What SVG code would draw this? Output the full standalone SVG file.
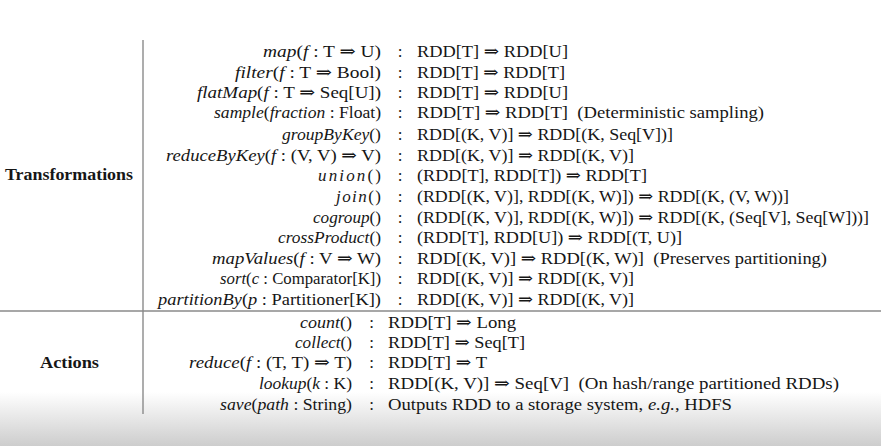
<svg xmlns="http://www.w3.org/2000/svg" width="881" height="446" viewBox="0 0 881 446">
<defs>
<linearGradient id="shade" x1="0" y1="0" x2="0" y2="1">
<stop offset="0" stop-color="#ffffff"/>
<stop offset="1" stop-color="#cdcdcd"/>
</linearGradient>
<style>
text{font-family:"Liberation Serif","DejaVu Serif",serif;font-size:17px;fill:#161616;white-space:pre}
.i{font-style:italic}
.h{font-weight:bold;font-size:17px}
.c{text-anchor:middle}
.e{text-anchor:end}
.rule{stroke:#8a8a8a;stroke-width:1.4;fill:none}
</style>
</defs>
<rect x="0" y="0" width="881" height="446" fill="#ffffff"/>
<rect x="0" y="392" width="881" height="54" fill="url(#shade)"/>
<g id="rules">
<line class="rule" x1="143" y1="40" x2="143" y2="414"/>
<line class="rule" x1="0" y1="311" x2="881" y2="311"/>
</g>
<g id="headers">
<text class="h" x="5" y="180" textLength="128" lengthAdjust="spacingAndGlyphs">Transformations</text>
<text class="h" x="40" y="368" textLength="59" lengthAdjust="spacingAndGlyphs">Actions</text>
</g>
<g id="transformations">
<g id="row-map"><text x="263" y="57" textLength="118" lengthAdjust="spacingAndGlyphs"><tspan class="i">map</tspan>(<tspan class="i">f</tspan> : T ⇒ U)</text><text class="c" x="400" y="57">:</text><text x="417" y="57" textLength="151" lengthAdjust="spacingAndGlyphs">RDD[T] ⇒ RDD[U]</text></g>
<g id="row-filter"><text x="235" y="77.5" textLength="146" lengthAdjust="spacingAndGlyphs"><tspan class="i">filter</tspan>(<tspan class="i">f</tspan> : T ⇒ Bool)</text><text class="c" x="400" y="77.5">:</text><text x="417" y="77.5" textLength="148" lengthAdjust="spacingAndGlyphs">RDD[T] ⇒ RDD[T]</text></g>
<g id="row-flatmap"><text x="197" y="98" textLength="184" lengthAdjust="spacingAndGlyphs"><tspan class="i">flatMap</tspan>(<tspan class="i">f</tspan> : T ⇒ Seq[U])</text><text class="c" x="400" y="98">:</text><text x="417" y="98" textLength="151" lengthAdjust="spacingAndGlyphs">RDD[T] ⇒ RDD[U]</text></g>
<g id="row-sample"><text x="214" y="118" textLength="167" lengthAdjust="spacingAndGlyphs"><tspan class="i">sample</tspan>(<tspan class="i">fraction</tspan> : Float)</text><text class="c" x="400" y="118">:</text><text x="417" y="118" textLength="347" lengthAdjust="spacingAndGlyphs">RDD[T] ⇒ RDD[T]  (Deterministic sampling)</text></g>
<g id="row-groupbykey"><text x="282" y="140" textLength="99" lengthAdjust="spacingAndGlyphs"><tspan class="i">groupByKey</tspan>()</text><text class="c" x="400" y="140">:</text><text x="417" y="140" textLength="256" lengthAdjust="spacingAndGlyphs">RDD[(K, V)] ⇒ RDD[(K, Seq[V])]</text></g>
<g id="row-reducebykey"><text x="166" y="160.5" textLength="215" lengthAdjust="spacingAndGlyphs"><tspan class="i">reduceByKey</tspan>(<tspan class="i">f</tspan> : (V, V) ⇒ V)</text><text class="c" x="400" y="160.5">:</text><text x="417" y="160.5" textLength="217" lengthAdjust="spacingAndGlyphs">RDD[(K, V)] ⇒ RDD[(K, V)]</text></g>
<g id="row-union"><text x="318" y="180.5" textLength="63" lengthAdjust="spacing"><tspan class="i">union</tspan>()</text><text class="c" x="400" y="180.5">:</text><text x="417" y="180.5" textLength="230" lengthAdjust="spacingAndGlyphs">(RDD[T], RDD[T]) ⇒ RDD[T]</text></g>
<g id="row-join"><text x="336" y="201.5" textLength="45" lengthAdjust="spacing"><tspan class="i">join</tspan>()</text><text class="c" x="400" y="201.5">:</text><text x="417" y="201.5" textLength="372" lengthAdjust="spacingAndGlyphs">(RDD[(K, V)], RDD[(K, W)]) ⇒ RDD[(K, (V, W))]</text></g>
<g id="row-cogroup"><text x="313" y="222.5" textLength="68" lengthAdjust="spacingAndGlyphs"><tspan class="i">cogroup</tspan>()</text><text class="c" x="400" y="222.5">:</text><text x="417" y="222.5" textLength="452" lengthAdjust="spacingAndGlyphs">(RDD[(K, V)], RDD[(K, W)]) ⇒ RDD[(K, (Seq[V], Seq[W]))]</text></g>
<g id="row-crossproduct"><text x="278" y="243" textLength="103" lengthAdjust="spacingAndGlyphs"><tspan class="i">crossProduct</tspan>()</text><text class="c" x="400" y="243">:</text><text x="417" y="243" textLength="265" lengthAdjust="spacingAndGlyphs">(RDD[T], RDD[U]) ⇒ RDD[(T, U)]</text></g>
<g id="row-mapvalues"><text x="212" y="263.5" textLength="169" lengthAdjust="spacingAndGlyphs"><tspan class="i">mapValues</tspan>(<tspan class="i">f</tspan> : V ⇒ W)</text><text class="c" x="400" y="263.5">:</text><text x="417" y="263.5" textLength="410" lengthAdjust="spacingAndGlyphs">RDD[(K, V)] ⇒ RDD[(K, W)]  (Preserves partitioning)</text></g>
<g id="row-sort"><text x="220" y="284" textLength="161" lengthAdjust="spacingAndGlyphs"><tspan class="i">sort</tspan>(<tspan class="i">c</tspan> : Comparator[K])</text><text class="c" x="400" y="284">:</text><text x="417" y="284" textLength="217" lengthAdjust="spacingAndGlyphs">RDD[(K, V)] ⇒ RDD[(K, V)]</text></g>
<g id="row-partitionby"><text x="158" y="304.5" textLength="223" lengthAdjust="spacingAndGlyphs"><tspan class="i">partitionBy</tspan>(<tspan class="i">p</tspan> : Partitioner[K])</text><text class="c" x="400" y="304.5">:</text><text x="417" y="304.5" textLength="217" lengthAdjust="spacingAndGlyphs">RDD[(K, V)] ⇒ RDD[(K, V)]</text></g>
</g>
<g id="actions">
<g id="row-count"><text x="300" y="328" textLength="52" lengthAdjust="spacingAndGlyphs"><tspan class="i">count</tspan>()</text><text class="c" x="371.5" y="328">:</text><text x="388" y="328" textLength="128" lengthAdjust="spacingAndGlyphs">RDD[T] ⇒ Long</text></g>
<g id="row-collect"><text x="295" y="348" textLength="57" lengthAdjust="spacingAndGlyphs"><tspan class="i">collect</tspan>()</text><text class="c" x="371.5" y="348">:</text><text x="388" y="348" textLength="137" lengthAdjust="spacingAndGlyphs">RDD[T] ⇒ Seq[T]</text></g>
<g id="row-reduce"><text x="189" y="368" textLength="163" lengthAdjust="spacingAndGlyphs"><tspan class="i">reduce</tspan>(<tspan class="i">f</tspan> : (T, T) ⇒ T)</text><text class="c" x="371.5" y="368">:</text><text x="388" y="368" textLength="99" lengthAdjust="spacingAndGlyphs">RDD[T] ⇒ T</text></g>
<g id="row-lookup"><text x="259" y="388.5" textLength="93" lengthAdjust="spacingAndGlyphs"><tspan class="i">lookup</tspan>(<tspan class="i">k</tspan> : K)</text><text class="c" x="371.5" y="388.5">:</text><text x="388" y="388.5" textLength="451" lengthAdjust="spacingAndGlyphs">RDD[(K, V)] ⇒ Seq[V]  (On hash/range partitioned RDDs)</text></g>
<g id="row-save"><text x="220" y="409.5" textLength="132" lengthAdjust="spacingAndGlyphs"><tspan class="i">save</tspan>(<tspan class="i">path</tspan> : String)</text><text class="c" x="371.5" y="409.5">:</text><text x="388" y="409.5" textLength="344" lengthAdjust="spacingAndGlyphs">Outputs RDD to a storage system, <tspan class="i">e.g.</tspan>, HDFS</text></g>
</g>
</svg>
